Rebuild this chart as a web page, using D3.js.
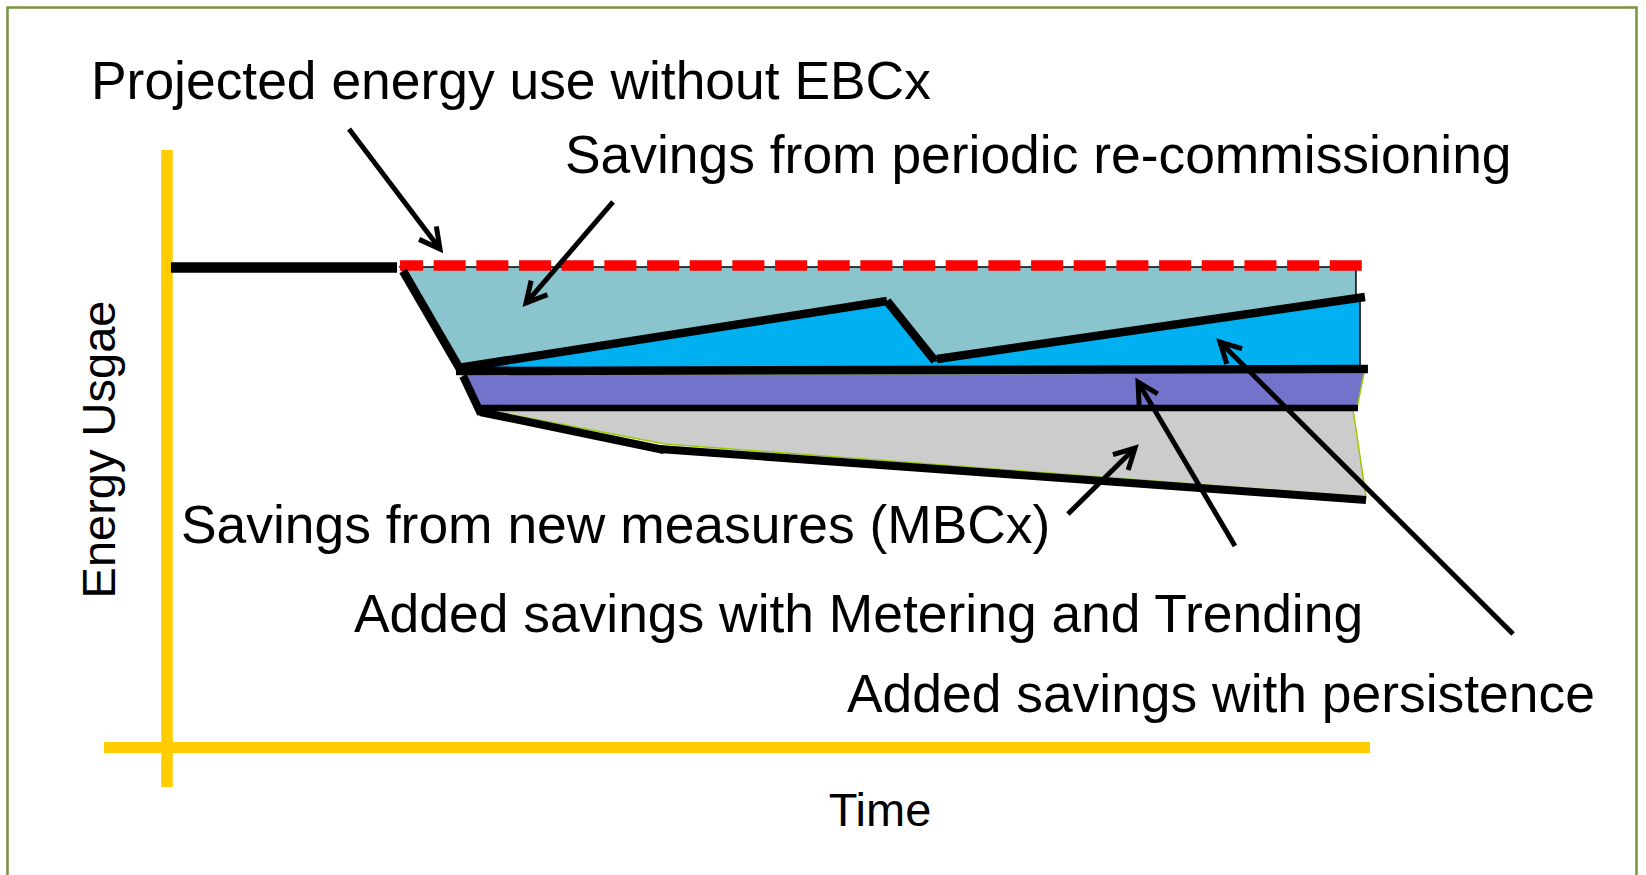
<!DOCTYPE html>
<html>
<head>
<meta charset="utf-8">
<script src="https://cdn.jsdelivr.net/npm/d3@7"></script>
<style>
  html, body { margin: 0; padding: 0; background: #fff; }
  svg { display: block; }
  text { font-family: "Liberation Sans", Arial, sans-serif; fill: #000; }
</style>
</head>
<body>
<svg id="chart" width="1646" height="875"></svg>
<script>
(function() {
  var svg, x, y, line, poly, g, arrowHead;

  // time runs 0..100 along the x axis, energy 0..100 up to the pre-EBCx level
  var baselineUse = [[0.33, 100], [19.17, 100]];
  var projectedUse = [[19.42, 100.42], [99.58, 100.42]];

  // shaded savings bands
  var recommissioningArea = [[19.42, 100.1], [99.08, 100.1], [99.08, 78.65], [24.42, 78.65], [19.67, 99.27]];
  var persistenceArea = [[24.42, 78.85], [60, 93.02], [64, 80.52], [99.42, 93.85], [99.42, 78.65], [24.42, 78.65]];
  var meteringArea = [[24.58, 77.81], [99.75, 78.02], [99.17, 70.73], [26.17, 70.52]];
  var mbcxArea = [[26.17, 70.52], [98.83, 70.52], [99.92, 52.19], [41.5, 63.23]];

  // actual energy use traces (thick black)
  var actualUse = [
    { pts: [[19.67, 99.27], [24.42, 78.85]], w: 8.5 },
    { pts: [[24.25, 79.06], [60, 93.02]], w: 8.5 },
    { pts: [[60, 93.02], [64, 80.52]], w: 8.5 },
    { pts: [[64.17, 80.94], [99.83, 93.85]], w: 8.5 },
    { pts: [[24.08, 78.44], [100.08, 78.85]], w: 8.5 },
    { pts: [[24.67, 77.4], [26.17, 69.48]], w: 8 },
    { pts: [[26.17, 70.73], [99.25, 70.73]], w: 6.5 },
    { pts: [[26.08, 69.9], [41.42, 61.98]], w: 8 },
    { pts: [[41.0, 62.2], [99.92, 51.56]], w: 8 }
  ];

  // annotation arrows: tail -> tip
  var arrows = [
    [[15.17, 128.85], [22.75, 103.85]],
    [[37.17, 113.65], [29.92, 92.6]],
    [[75.08, 48.65], [80.67, 62.4]],
    [[89.0, 41.98], [80.92, 76.15]],
    [[112.17, 23.65], [87.75, 84.48]]
  ];

  var labels = [
    { text: 'Projected energy use without EBCx', x: 91, y: 99 },
    { text: 'Savings from periodic re-commissioning', x: 565, y: 173 },
    { text: 'Savings from new measures (MBCx)', x: 181, y: 543 },
    { text: 'Added savings with Metering and Trending', x: 354, y: 632 },
    { text: 'Added savings with persistence', x: 847, y: 712 }
  ];

  var xExtent = [-5.25, 100.25];
  var yExtent = [-8.23, 124.48];

  svg = d3.select('#chart');

  x = d3.scaleLinear().domain([0, 100]).range([167, 1367]);
  y = d3.scaleLinear().domain([0, 100]).range([747.5, 267.5]);

  line = d3.line().x(function(d) { return x(d[0]); }).y(function(d) { return y(d[1]); });
  poly = function(d) { return line(d) + 'Z'; };

  // slide frame
  svg.append('rect')
    .attr('x', 7.5).attr('y', 7.5)
    .attr('width', 1629).attr('height', 900)
    .attr('fill', 'none').attr('stroke', '#77933C').attr('stroke-width', 2.5);

  // axes
  g = svg.append('g').attr('class', 'axes');
  g.append('line')
    .attr('x1', x(xExtent[0])).attr('x2', x(xExtent[1]))
    .attr('y1', y(0)).attr('y2', y(0))
    .attr('stroke', '#FFCC00').attr('stroke-width', 11);
  g.append('line')
    .attr('x1', x(0)).attr('x2', x(0))
    .attr('y1', y(yExtent[0])).attr('y2', y(yExtent[1]))
    .attr('stroke', '#FFCC00').attr('stroke-width', 11.5);

  // bands
  g = svg.append('g').attr('class', 'areas');
  g.append('path').attr('d', poly(recommissioningArea))
    .attr('fill', '#8AC5CD').attr('stroke', '#000').attr('stroke-width', 1.5);
  g.append('path').attr('d', poly(persistenceArea))
    .attr('fill', '#00B0F0').attr('stroke', '#000').attr('stroke-width', 1.5);
  g.append('path').attr('d', poly(meteringArea))
    .attr('fill', '#7373CC').attr('stroke', '#99CC00').attr('stroke-width', 1.5);
  g.append('path').attr('d', poly(mbcxArea))
    .attr('fill', '#CCCCCC').attr('stroke', '#99CC00').attr('stroke-width', 1.5);

  // projected use without EBCx
  svg.append('path').attr('d', line(projectedUse))
    .attr('fill', 'none').attr('stroke', '#FF0000').attr('stroke-width', 10.5)
    .attr('stroke-dasharray', '32,10.67').attr('stroke-dashoffset', 9);

  // actual use
  svg.append('path').attr('d', line(baselineUse))
    .attr('fill', 'none').attr('stroke', '#000').attr('stroke-width', 10.5);

  svg.append('g').attr('class', 'actual')
    .selectAll('path').data(actualUse).enter().append('path')
    .attr('d', function(d) { return line(d.pts); })
    .attr('fill', 'none').attr('stroke', '#000')
    .attr('stroke-width', function(d) { return d.w; });

  // arrows
  arrowHead = function(d) {
    var tx = x(d[1][0]), ty = y(d[1][1]);
    var a = Math.atan2(y(d[0][1]) - ty, x(d[0][0]) - tx);
    var spread = 28 * Math.PI / 180, len = 23;
    return 'M' + (tx + len * Math.cos(a - spread)) + ',' + (ty + len * Math.sin(a - spread)) +
      'L' + tx + ',' + ty +
      'L' + (tx + len * Math.cos(a + spread)) + ',' + (ty + len * Math.sin(a + spread));
  };

  g = svg.append('g').attr('class', 'arrows')
    .attr('fill', 'none').attr('stroke', '#000').attr('stroke-width', 5);
  g.selectAll('path.shaft').data(arrows).enter().append('path')
    .attr('class', 'shaft')
    .attr('d', function(d) { return line(d); });
  g.selectAll('path.head').data(arrows).enter().append('path')
    .attr('class', 'head')
    .attr('d', arrowHead);

  // labels
  svg.append('g').attr('class', 'labels')
    .selectAll('text').data(labels).enter().append('text')
    .attr('x', function(d) { return d.x; })
    .attr('y', function(d) { return d.y; })
    .attr('font-size', 53.4)
    .text(function(d) { return d.text; });

  svg.append('text')
    .attr('x', 880).attr('y', 826)
    .attr('text-anchor', 'middle')
    .attr('font-size', 47)
    .text('Time');

  svg.append('text')
    .attr('transform', 'translate(115,449.5) rotate(-90)')
    .attr('text-anchor', 'middle')
    .attr('font-size', 47)
    .text('Energy Usgae');

})();
</script>
</body>
</html>
